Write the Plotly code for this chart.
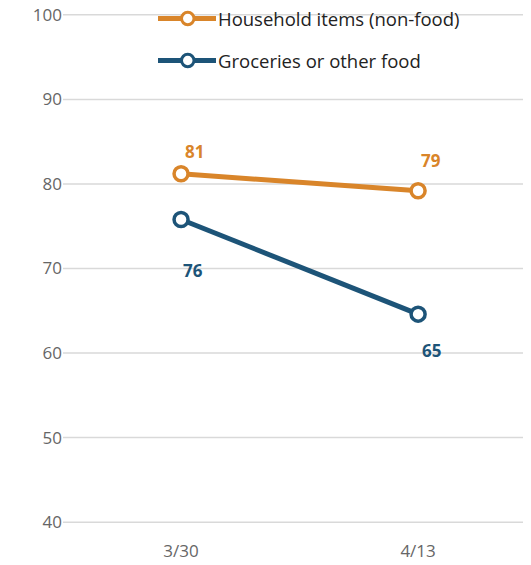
import plotly.graph_objects as go

dates = ["3/30", "4/13"]
household = [81.2, 79.2]
groceries = [75.8, 64.6]
household_labels = ["81", "79"]
groceries_labels = ["76", "65"]
series_names = ["Household items (non-food)", "Groceries or other food"]
y_ticks = [40, 50, 60, 70, 80, 90, 100]

ORANGE = "#D9852A"
BLUE = "#1D5478"
FONT = "Open Sans"

fig = go.Figure()

# gridlines as shapes so the edge lines (40, 100) are drawn too
for t in y_ticks:
    fig.add_shape(type="line", xref="paper", yref="y", x0=0, x1=1, y0=t, y1=t,
                  line=dict(color="#d9d9d9", width=1.5), layer="below")

for vals, color, name in [(household, ORANGE, series_names[0]), (groceries, BLUE, series_names[1])]:
    fig.add_trace(go.Scatter(
        x=dates, y=vals, mode="lines+markers", name=name,
        line=dict(color=color, width=5),
        marker=dict(size=14, color="white", line=dict(color=color, width=3.5)),
        showlegend=False, cliponaxis=False,
    ))

# data labels
shifts_h = [(13, 22), (13, 30)]
shifts_g = [(12, -51), (13, -36)]
for vals, labels, color, shifts in [(household, household_labels, ORANGE, shifts_h),
                                    (groceries, groceries_labels, BLUE, shifts_g)]:
    for d, v, t, (dx, dy) in zip(dates, vals, labels, shifts):
        fig.add_annotation(x=d, y=v, text=f"<b>{t}</b>", showarrow=False,
                           xshift=dx, yshift=dy,
                           font=dict(family=FONT, size=17, color=color))

# custom legend (positions in page pixels; page has 8px body offset)
W, H = 531, 565
OFF = 8
L, T, B = 55, 6, 50
pw, ph = W - L, H - T - B
def px(xp):
    return (xp - OFF - L) / pw
def py(yp):
    return 1 - (yp - OFF - T) / ph

for i, (color, name) in enumerate([(ORANGE, series_names[0]), (BLUE, series_names[1])]):
    yy = [18.5, 60.5][i]
    fig.add_shape(type="line", xref="paper", yref="paper", x0=px(158), x1=px(216),
                  y0=py(yy), y1=py(yy), line=dict(color=color, width=5), layer="above")
    fig.add_shape(type="circle", xref="paper", yref="paper",
                  x0=px(181.5), x1=px(194), y0=py(yy + 6.25), y1=py(yy - 6.25),
                  fillcolor="white", line=dict(color=color, width=3), layer="above")
    fig.add_annotation(xref="paper", yref="paper", x=px(217), y=py(yy), text=name,
                       showarrow=False, xanchor="left", yanchor="middle", borderpad=0,
                       font=dict(family=FONT, size=18.5, color="#222222"))

fig.update_layout(
    width=W, height=H,
    margin=dict(l=L, r=0, t=T, b=B, autoexpand=False),
    plot_bgcolor="white", paper_bgcolor="white",
    font=dict(family=FONT, size=17, color="#666666"),
    xaxis=dict(type="category", range=[-0.498, 1.51], showgrid=False, zeroline=False,
               showline=False, ticks="", ticklabelstandoff=16, automargin=False,
               tickfont=dict(family=FONT, size=17, color="#666666")),
    yaxis=dict(range=[39.9, 100.1], tickvals=y_ticks, showgrid=False,
               zeroline=False, showline=False, ticks="", automargin=False,
               ticklabelstandoff=0, ticklabeloverflow="allow",
               tickfont=dict(family=FONT, size=17, color="#666666")),
)

fig.write_html("out.html")
